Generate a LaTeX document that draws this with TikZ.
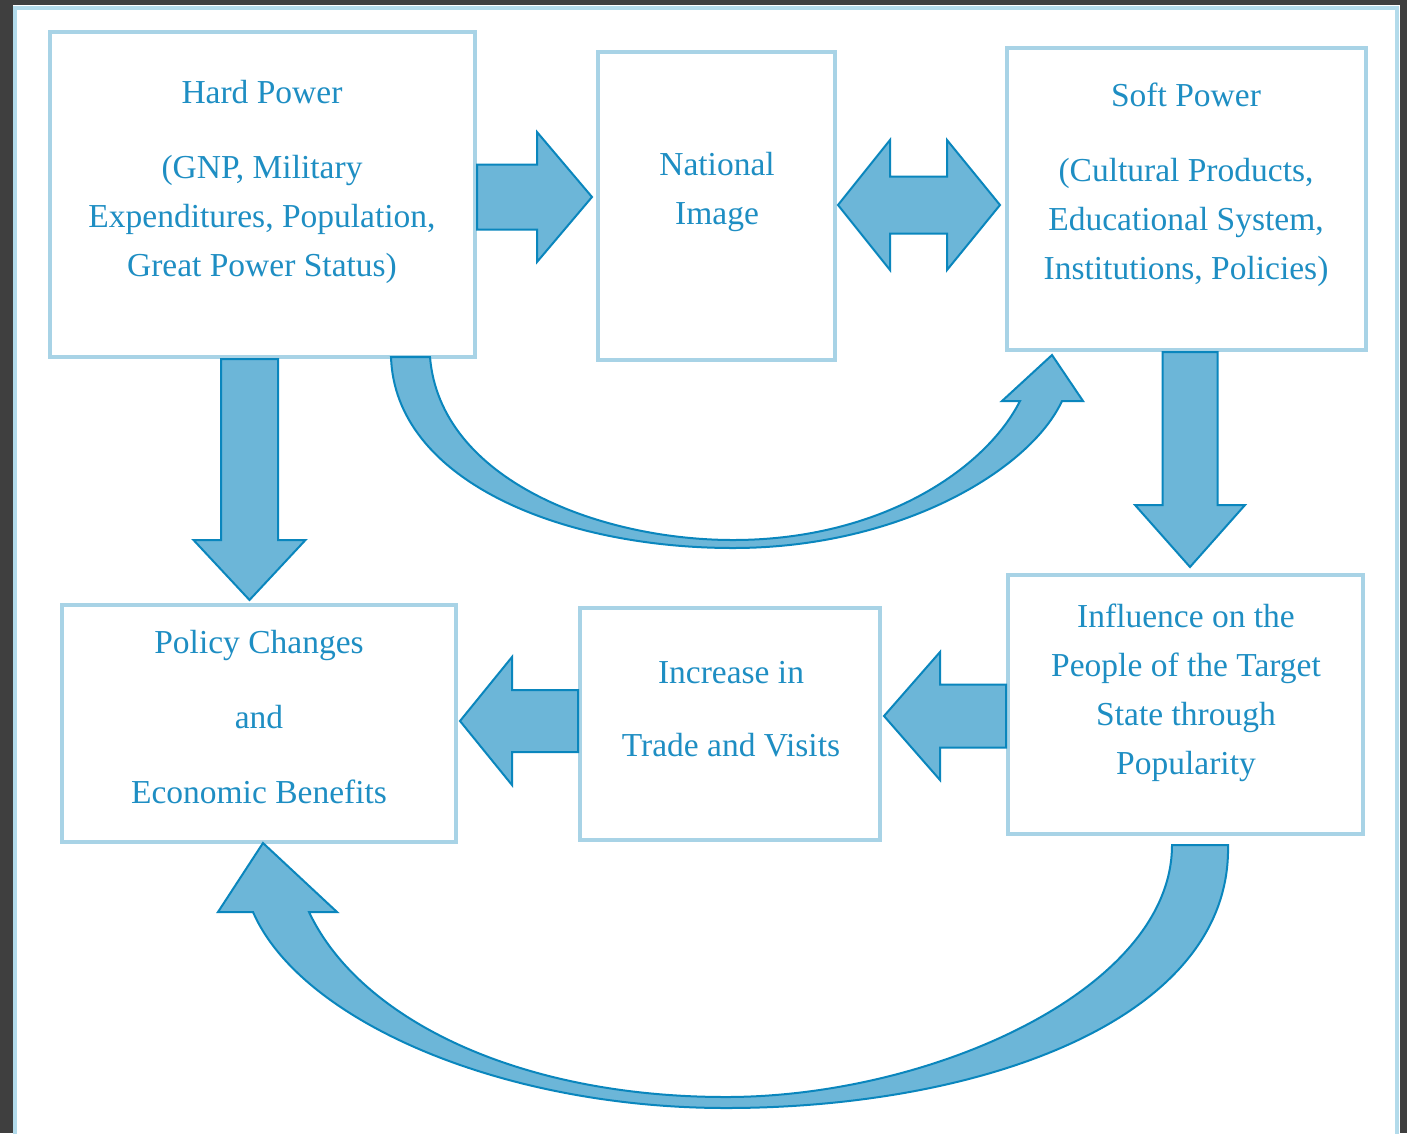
\documentclass[tikz,border=0pt]{standalone}
\usepackage{fontspec}
\setmainfont{Liberation Serif}
\usetikzlibrary{calc}
\definecolor{framegray}{HTML}{3F3F3F}
\definecolor{edgeblue}{HTML}{B3DBEB}
\definecolor{boxline}{HTML}{A8D3E6}
\definecolor{txtc}{HTML}{1E8EC3}
\definecolor{arrfill}{HTML}{6CB6D8}
\definecolor{arrline}{HTML}{0A86BD}
\begin{document}
\begin{tikzpicture}[x=1pt,y=-1pt,
  box/.style={draw=boxline, line width=4pt, fill=white, inner sep=0pt},
  txt/.style={text=txtc, align=center, font=\fontsize{33.5}{49}\selectfont, inner sep=0pt},
  blk/.style={fill=arrfill, draw=arrline, line width=2pt, line join=miter},
]
\useasboundingbox (0,0) rectangle (1407,1133);
% frame
\fill[framegray] (0,0) rectangle (1407,1133);
\fill[white] (13,5) rectangle (1400,1140);
\draw[edgeblue, line width=4pt] (15,1140) -- (15,7.5) -- (1397,7.5) -- (1397,1140);

% boxes
\node[box, minimum width=425, minimum height=325] (hp) at (262.5,194.5) {};
\node[box, minimum width=237, minimum height=308] (ni) at (716.5,206) {};
\node[box, minimum width=359, minimum height=302] (sp) at (1186.5,199) {};
\node[box, minimum width=394, minimum height=237] (pc) at (259,723.5) {};
\node[box, minimum width=300, minimum height=232] (it) at (730,724) {};
\node[box, minimum width=355, minimum height=259] (inf) at (1185.5,704.5) {};

% texts
\node[txt] (hpt) at (262,182) {Hard Power\\[26pt](GNP, Military\\Expenditures, Population,\\Great Power Status)};
\node[txt] (nit) at (717,192) {National\\Image};
\node[txt] (spt) at (1186,185) {Soft Power\\[26pt](Cultural Products,\\Educational System,\\Institutions, Policies)};
\node[txt] (pct) at (259,717) {Policy Changes\\[26pt]and\\[26pt]Economic Benefits};
\node[txt] (itt) at (731,709) {Increase in\\[24pt]Trade and Visits};
\node[txt] (inft) at (1186,693) {Influence on the\\People of the Target\\State through\\Popularity};

% straight block arrows
% hard power -> national image
\draw[blk] (hp.east |- 0,164.5) -- (537,164.5) -- (537,132) -- (592,197) -- (537,262) -- (537,229.5) -- (hp.east |- 0,229.5) -- cycle;
% national image <-> soft power
\draw[blk] (838,205) -- (890,140) -- (890,176.5) -- (947,176.5) -- (947,140) -- (1000,205)
  -- (947,270) -- (947,233.5) -- (890,233.5) -- (890,270) -- cycle;
% hard power -> policy changes
\draw[blk] (221,0 |- hp.south) -- (278,0 |- hp.south) -- (278,540) -- (305.5,540) -- (249.5,600)
  -- (193.5,540) -- (221,540) -- cycle;
% soft power -> influence
\draw[blk] (1162.5,0 |- sp.south) -- (1217.5,0 |- sp.south) -- (1217.5,505) -- (1245,505) -- (1190,567)
  -- (1135,505) -- (1162.5,505) -- cycle;
% influence -> increase in trade
\draw[blk] (inf.west |- 0,684.5) -- (940,684.5) -- (940,652) -- (884,716) -- (940,780) -- (940,747.5)
  -- (inf.west |- 0,747.5) -- cycle;
% increase in trade -> policy changes
\draw[blk] (578,690) -- (512,690) -- (512,657) -- (460,721) -- (512,785) -- (512,752) -- (578,752) -- cycle;

% curved arrows
% hard power -> soft power
\draw[blk] (391,357) .. controls (395,480) and (560,548) .. (733,548)
  .. controls (900,548) and (1030,470) .. (1062,401)
  -- (1083,401) -- (1052,355) -- (1002,401) -- (1020,401)
  .. controls (985,470) and (880,540) .. (733,540)
  .. controls (600,540) and (440,480) .. (430,357) -- cycle;
% influence -> policy changes
\draw[blk] (1228,845) .. controls (1232,1020) and (980,1108) .. (726,1108)
  .. controls (500,1108) and (300,1020) .. (253,912)
  -- (218,912) -- (263,843) -- (337,912) -- (309,912)
  .. controls (360,1020) and (520,1097) .. (726,1097)
  .. controls (930,1097) and (1172,990) .. (1172,845) -- cycle;
\end{tikzpicture}
\end{document}
